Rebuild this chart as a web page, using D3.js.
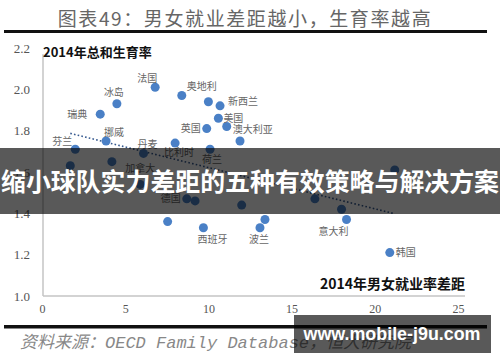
<!DOCTYPE html>
<html lang="zh">
<head>
<meta charset="utf-8">
<title>男女就业差距与生育率</title>
<script src="https://cdn.jsdelivr.net/npm/d3@7"></script>
<style>
  body { margin: 0; background: #fff; }
  svg { display: block; }
  .tick text { fill: #555; font-family: "Liberation Serif", serif; }
  .domain { stroke: #c4c4c4; stroke-width: 1.5; }
  .lbl { fill: #666; font-family: "Noto Sans CJK SC", sans-serif; font-size: 10px; }
</style>
</head>
<body>
<script>
// countries (blank = label not readable / hidden)
var countries = ["法国", "奥地利", "", "新西兰", "冰岛", "瑞典", "美国", "英国", "澳大利亚", "",
                 "挪威", "芬兰", "丹麦", "比利时", "荷兰", "", "", "加拿大", "德国", "",
                 "", "", "西班牙", "", "", "", "", "意大利", "波兰", "韩国"];
// 2014 gender employment gap (x) and total fertility rate (y)
var empGap = [6.8, 8.4, 10.0, 10.7, 4.5, 3.5, 10.6, 9.9, 11.1, 11.9,
              3.85, 2.0, 6.1, 8.0, 10.1, 1.7, 4.2, 5.9, 8.7, 9.2,
              12.0, 7.55, 9.7, 21.2, 16.4, 18.0, 13.4, 18.3, 13.1, 20.9];
var fertility = [2.01, 1.97, 1.94, 1.92, 1.93, 1.88, 1.86, 1.81, 1.82, 1.75,
                 1.75, 1.71, 1.69, 1.74, 1.71, 1.63, 1.65, 1.54, 1.47, 1.46,
                 1.44, 1.36, 1.33, 1.61, 1.47, 1.42, 1.37, 1.37, 1.33, 1.21];
// trend line end points
var trendX = [1.7, 21.1];
var trendY = [1.787, 1.40];
var xTicks = [0, 5, 10, 15, 20, 25];
var yTicks = [1.0, 1.2, 1.4, 1.6, 1.8, 2.0, 2.2];

// label placement around each dot: [dx, dy, anchor]
var labelPlace = {
  "法国": [-8, -9, "middle"], "奥地利": [5, -9, "start"], "新西兰": [8, -4, "start"],
  "冰岛": [-3, -11, "middle"], "瑞典": [-13, 0, "end"], "美国": [5, 0, "start"],
  "英国": [-6, 0, "end"], "澳大利亚": [6, 3, "start"], "挪威": [8, -9, "middle"],
  "芬兰": [-13, -8, "middle"], "丹麦": [4, -9, "middle"], "比利时": [4, 9, "middle"],
  "荷兰": [2, 10, "middle"], "加拿大": [0, -16, "middle"], "德国": [-6, 0, "end"],
  "西班牙": [9, 12, "middle"], "意大利": [-13, 12, "middle"], "波兰": [-1, 12, "middle"],
  "韩国": [6, 0, "start"]
};

var width = 500, height = 362;
var svg = d3.select("body").append("svg")
            .attr("width", width).attr("height", height);

// header
svg.append("text")
   .attr("x", 245).attr("y", 26)
   .attr("text-anchor", "middle")
   .attr("fill", "#666")
   .style("font-family", "'Noto Sans CJK SC', sans-serif")
   .style("font-size", "19px")
   .style("letter-spacing", "1.6px")
   .text("图表49：男女就业差距越小，生育率越高");
svg.append("rect").attr("x", 4).attr("y", 30).attr("width", 483).attr("height", 3).attr("fill", "#111");

var x = d3.scaleLinear().domain([0, 25]).range([42, 458]);
var y = d3.scaleLinear().domain([1.0, 2.2]).range([296, 48]);

svg.append("g")
   .attr("transform", "translate(43,0)")
   .call(d3.axisLeft(y).tickValues(yTicks).tickSize(0).tickPadding(13).tickFormat(d3.format(".1f")))
   .call(function(g){ g.select(".domain").attr("d", "M0," + y(2.17) + "V" + y(1.0)); })
   .selectAll("text").style("font-size", "13px");

svg.append("g")
   .attr("transform", "translate(0," + y(1.0) + ")")
   .call(d3.axisBottom(x).tickValues(xTicks).tickSize(0).tickPadding(8))
   .call(function(g){ g.select(".domain").attr("d", "M43,0H465"); })
   .selectAll("text").style("font-size", "12px");

svg.append("text")
   .attr("x", 43).attr("y", 57)
   .style("font-family", "'Noto Sans CJK SC', sans-serif")
   .style("font-size", "13px").style("font-weight", "bold")
   .attr("fill", "#111")
   .text("2014年总和生育率");
svg.append("text")
   .attr("x", 465).attr("y", 289)
   .attr("text-anchor", "end")
   .style("font-family", "'Noto Sans CJK SC', sans-serif")
   .style("font-size", "14px").style("font-weight", "bold")
   .attr("fill", "#111")
   .text("2014年男女就业率差距");

var pts = d3.range(empGap.length).map(function(i){
  return { name: countries[i], gx: empGap[i], fy: fertility[i] };
});

svg.append("line")
   .attr("x1", x(trendX[0])).attr("y1", y(trendY[0]))
   .attr("x2", x(trendX[1])).attr("y2", y(trendY[1]))
   .attr("stroke", "#35598f").attr("stroke-width", 1.6)
   .attr("stroke-dasharray", "1.6,2.2");

svg.append("g").selectAll("circle")
   .data(pts).enter().append("circle")
   .attr("cx", function(d){ return x(d.gx); })
   .attr("cy", function(d){ return y(d.fy); })
   .attr("r", 4.5)
   .attr("fill", "#4a80c6");

svg.append("g").selectAll("text")
   .data(pts.filter(function(d){ return d.name && labelPlace[d.name]; }))
   .enter().append("text")
   .attr("class", "lbl")
   .attr("x", function(d){ return x(d.gx) + labelPlace[d.name][0]; })
   .attr("y", function(d){ return y(d.fy) + labelPlace[d.name][1]; })
   .attr("dy", "0.35em")
   .attr("text-anchor", function(d){ return labelPlace[d.name][2]; })
   .text(function(d){ return d.name; });

// footer
svg.append("rect").attr("x", 4).attr("y", 325).attr("width", 483).attr("height", 3.5).attr("fill", "#111");
var src = svg.append("text")
   .attr("x", 20).attr("y", 348)
   .attr("fill", "#888")
   .style("font-size", "17px").style("font-style", "italic")
   .style("font-family", "'Noto Sans CJK SC', sans-serif");
src.append("tspan").text("资料来源：");
src.append("tspan").style("font-family", "'Liberation Mono', monospace").text("OECD Family Database");
src.append("tspan").text("，恒大研究院");

// overlay band with headline
svg.append("rect").attr("x", 0).attr("y", 148).attr("width", 500).attr("height", 66)
   .attr("fill", "rgba(0,0,0,0.65)");
svg.append("text")
   .attr("x", 250).attr("y", 182)
   .attr("dy", "0.36em")
   .attr("text-anchor", "middle")
   .attr("fill", "#fff")
   .style("font-family", "'Noto Sans CJK SC', sans-serif")
   .style("font-size", "25px").style("font-weight", "bold")
   .attr("textLength", 498).attr("lengthAdjust", "spacingAndGlyphs")
   .text("缩小球队实力差距的五种有效策略与解决方案");

// watermark
svg.append("rect").attr("x", 294).attr("y", 315).attr("width", 197).attr("height", 38)
   .attr("fill", "rgba(0,0,0,0.65)");
svg.append("text")
   .attr("x", 392).attr("y", 334)
   .attr("dy", "0.36em")
   .attr("text-anchor", "middle")
   .attr("fill", "#fff")
   .style("font-family", "'Liberation Sans', Arial, sans-serif")
   .style("font-size", "18px").style("font-weight", "bold")
   .attr("textLength", 177).attr("lengthAdjust", "spacingAndGlyphs")
   .text("www.mobile-j9u.com");
</script>
</body>
</html>
